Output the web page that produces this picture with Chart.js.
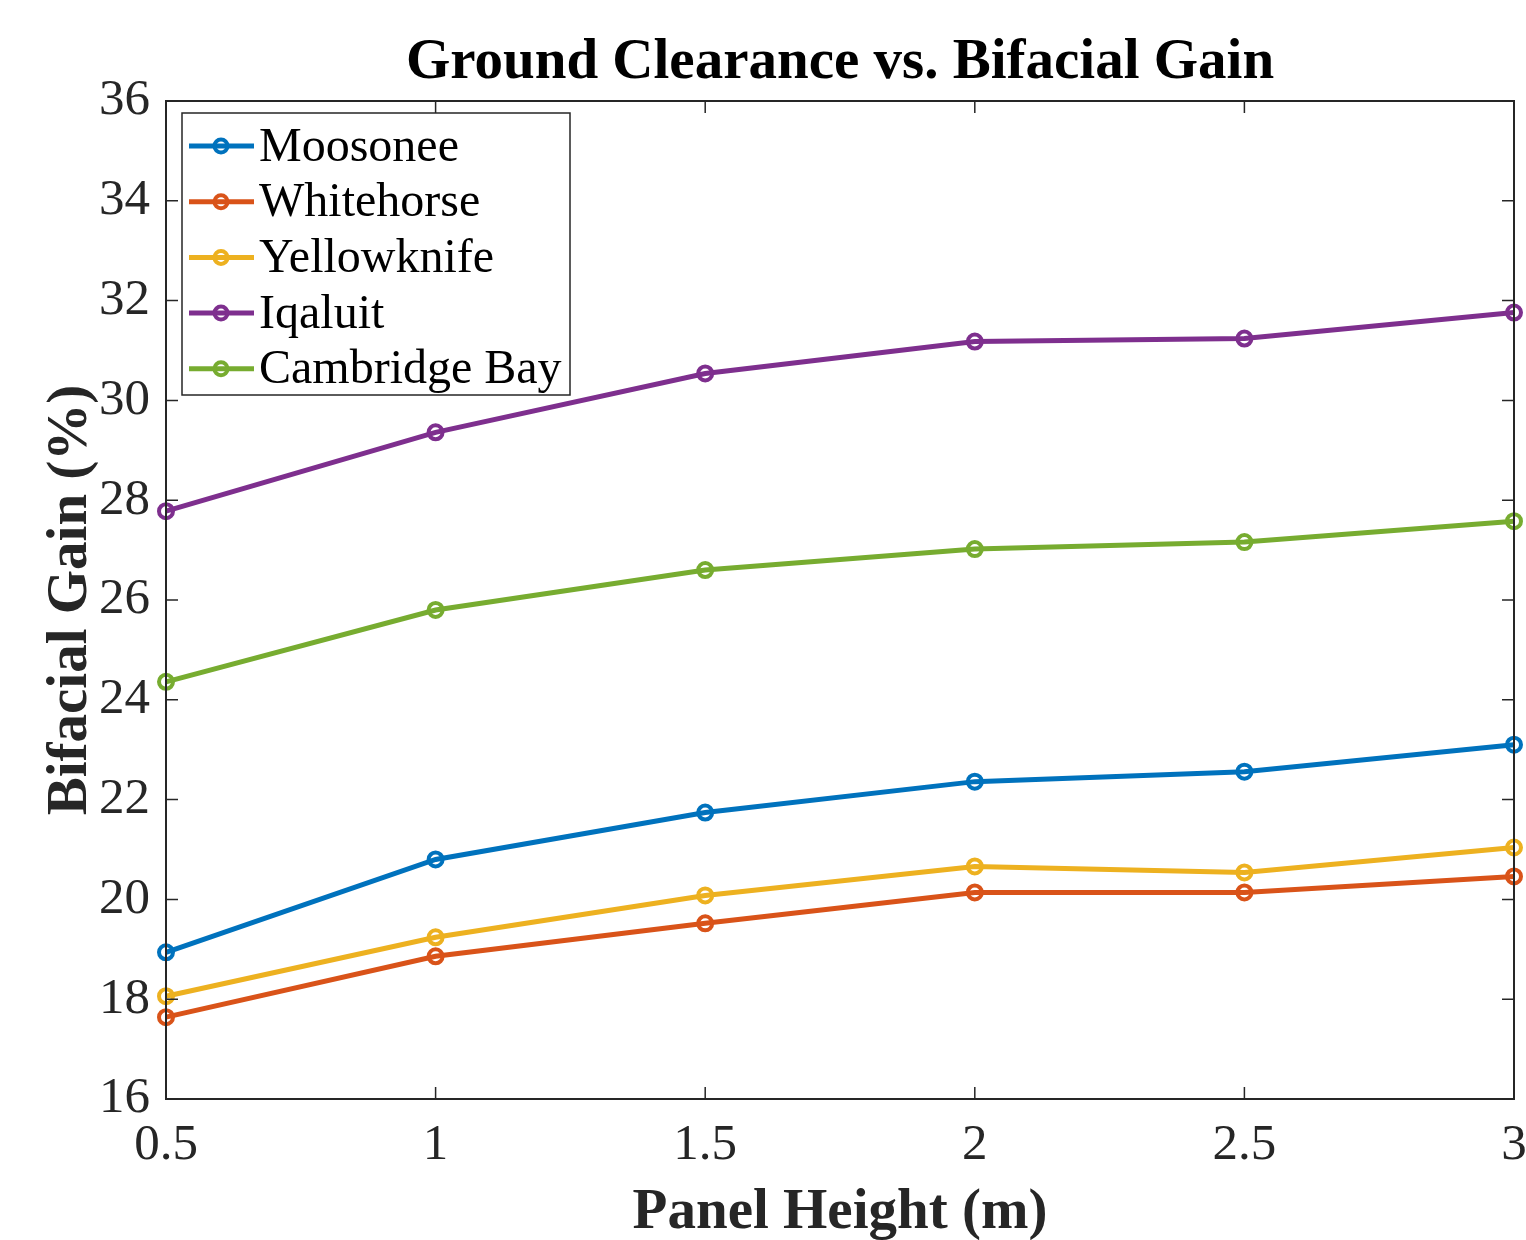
<!DOCTYPE html>
<html>
<head>
<meta charset="utf-8">
<script src="https://cdn.jsdelivr.net/npm/chart.js@4/dist/chart.umd.min.js"></script>
<style>
  html, body { margin: 0; padding: 0; background: #fff; }
  #wrap { width: 1526px; height: 1240px; }
</style>
</head>
<body>
<div id="wrap"><canvas id="gainChart"></canvas></div>
<script>
// panel height (m) and bifacial gain (%) per site
const heights = [0.5, 1, 1.5, 2, 2.5, 3];
const xTickLabels = ["0.5", "1", "1.5", "2", "2.5", "3"];
const sites = ["Moosonee", "Whitehorse", "Yellowknife", "Iqaluit", "Cambridge Bay"];
const moosonee = [18.94, 20.80, 21.74, 22.36, 22.56, 23.10];
const whitehorse = [17.64, 18.86, 19.52, 20.14, 20.14, 20.46];
const yellowknife = [18.06, 19.24, 20.08, 20.66, 20.54, 21.04];
const iqaluit = [27.78, 29.36, 30.54, 31.18, 31.24, 31.76];
const cambridgeBay = [24.36, 25.80, 26.60, 27.02, 27.16, 27.58];
const siteColors = ["#0072BD", "#D95319", "#EDB120", "#7E2F8E", "#77AC30"];

const chartTitle = "Ground Clearance vs. Bifacial Gain";
const axisColor = "#262626";
const serif = "'Liberation Serif', 'Times New Roman', serif";

const series = [moosonee, whitehorse, yellowknife, iqaluit, cambridgeBay];

const datasets = series.map((vals, i) => ({
  label: sites[i],
  data: heights.map((h, j) => ({ x: h, y: vals[j] })),
  borderColor: siteColors[i],
  backgroundColor: siteColors[i],
  borderWidth: 5,
  pointRadius: 7,
  pointBorderWidth: 4,
  pointBackgroundColor: "rgba(255,255,255,0)",
  pointBorderColor: siteColors[i],
  tension: 0,
  clip: false,
}));

// box around the axes, inward ticks on all four sides, title and legend
const matlabFrame = {
  id: "matlabFrame",
  afterDatasetsDraw(chart) {
    const ctx = chart.ctx;
    const a = chart.chartArea;
    const xs = chart.scales.x;
    const ys = chart.scales.y;
    const tickLen = 12;

    ctx.save();
    ctx.strokeStyle = axisColor;
    ctx.lineWidth = 2;
    ctx.strokeRect(a.left, a.top, a.right - a.left, a.bottom - a.top);

    ctx.lineWidth = 1.5;
    ctx.beginPath();
    xs.ticks.forEach(t => {
      const px = xs.getPixelForValue(t.value);
      ctx.moveTo(px, a.bottom); ctx.lineTo(px, a.bottom - tickLen);
      ctx.moveTo(px, a.top); ctx.lineTo(px, a.top + tickLen);
    });
    ys.ticks.forEach(t => {
      const py = ys.getPixelForValue(t.value);
      ctx.moveTo(a.left, py); ctx.lineTo(a.left + tickLen, py);
      ctx.moveTo(a.right, py); ctx.lineTo(a.right - tickLen, py);
    });
    ctx.stroke();

    // title centred over the plot
    ctx.fillStyle = "#000";
    ctx.font = "bold 57px " + serif;
    ctx.textAlign = "center";
    ctx.textBaseline = "alphabetic";
    ctx.fillText(chartTitle, (a.left + a.right) / 2, 78);

    // legend in the upper-left corner
    const lx = a.left + 16, ly = a.top + 12;
    const lw = 388, lh = 282;
    const rowH = 55.7;
    ctx.fillStyle = "#fff";
    ctx.fillRect(lx, ly, lw, lh);
    ctx.strokeStyle = axisColor;
    ctx.lineWidth = 1.5;
    ctx.strokeRect(lx, ly, lw, lh);

    ctx.font = "48px " + serif;
    ctx.textAlign = "left";
    ctx.textBaseline = "middle";
    chart.data.datasets.forEach((ds, i) => {
      const cy = ly + 33 + i * rowH;
      ctx.strokeStyle = ds.borderColor;
      ctx.lineWidth = 5;
      ctx.beginPath();
      ctx.moveTo(lx + 7, cy); ctx.lineTo(lx + 72, cy);
      ctx.stroke();
      ctx.lineWidth = 4;
      ctx.beginPath();
      ctx.arc(lx + 39, cy, 6.5, 0, Math.PI * 2);
      ctx.stroke();
      ctx.fillStyle = "#000";
      ctx.fillText(ds.label, lx + 77, cy + 2);
    });
    ctx.restore();
  }
};

new Chart(document.getElementById("gainChart"), {
  type: "line",
  data: { datasets },
  plugins: [matlabFrame],
  options: {
    responsive: true,
    maintainAspectRatio: false,
    animation: false,
    layout: { padding: { top: 101, right: 12, left: 0, bottom: 0 } },
    plugins: {
      legend: { display: false },
      title: { display: false },
      tooltip: { enabled: false },
    },
    scales: {
      x: {
        type: "linear",
        min: 0.5,
        max: 3,
        grid: { display: false, drawTicks: false },
        border: { display: false },
        ticks: {
          stepSize: 0.5,
          color: axisColor,
          padding: 16,
          maxRotation: 0,
          font: { family: serif, size: 51 },
          callback: (v) => {
            const k = heights.indexOf(v);
            return k >= 0 ? xTickLabels[k] : "";
          },
        },
        title: {
          display: true,
          text: "Panel Height (m)",
          color: axisColor,
          padding: { top: 0, bottom: 1 },
          font: { family: serif, size: 57, weight: "bold", lineHeight: 0.9 },
        },
        afterFit(scale) {
          scale.height = 141;
          // let the last tick label hang past the plot edge
          scale.paddingRight = 0;
          scale.paddingLeft = 0;
        },
      },
      y: {
        min: 16,
        max: 36,
        grid: { display: false, drawTicks: false },
        border: { display: false },
        ticks: {
          stepSize: 2,
          color: axisColor,
          padding: 16,
          font: { family: serif, size: 51 },
        },
        title: {
          display: true,
          text: "Bifacial Gain (%)",
          color: axisColor,
          padding: { top: 37, bottom: 0 },
          font: { family: serif, size: 57, weight: "bold" },
        },
        afterFit(scale) { scale.width = 166; },
      },
    },
  },
});
</script>
</body>
</html>
